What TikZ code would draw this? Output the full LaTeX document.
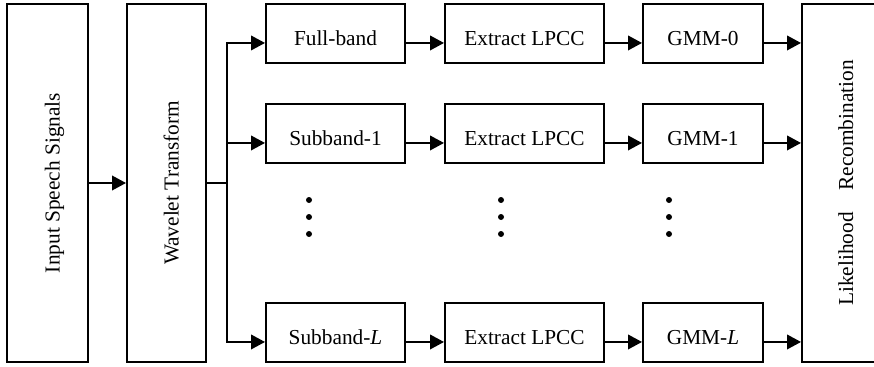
\documentclass[tikz,border=0pt]{standalone}
\usepackage{fontspec}
\setmainfont{Liberation Serif}
\usetikzlibrary{arrows.meta,calc}
\begin{document}
\begin{tikzpicture}[x=0.75pt,y=-0.75pt,
  blk/.style={draw,line width=1.5pt,inner sep=0pt,font=\fontsize{16}{18}\selectfont,
    text height=21pt,text depth=3pt,align=center},
  rowbox/.style={blk,minimum height=44.25pt},
  tall/.style={blk,minimum width=268.5pt,minimum height=#1},
  conn/.style={line width=1.25pt,-{Triangle[length=10.5pt,width=11pt]}},
  plain/.style={line width=1.25pt},
  dotmark/.style={fill=black,draw=none,circle,inner sep=0pt,minimum size=4.5pt}]
\useasboundingbox (0,0) rectangle (874,367);
\clip (0,0) rectangle (874,367);
% tall boxes
\node[tall=60.75pt,rotate=90] (inp) at (47.5,183) {Input Speech Signals};
\node[tall=59.25pt,rotate=90] (wav) at (166.5,183) {Wavelet Transform};
\node[tall=58.5pt,rotate=90] (fin) at (841,183) {Likelihood\hspace{16pt}Recombination};
% row boxes
\node[rowbox,minimum width=104.25pt] (fb) at (335.5,33.5) {Full-band};
\node[rowbox,minimum width=104.25pt] (sb1) at (335.5,133.5) {Subband-1};
\node[rowbox,minimum width=104.25pt] (sbL) at (335.5,332.5) {Subband-\textit{L}};
\node[rowbox,minimum width=119.25pt] (ex0) at (524.5,33.5) {Extract LPCC};
\node[rowbox,minimum width=119.25pt] (ex1) at (524.5,133.5) {Extract LPCC};
\node[rowbox,minimum width=119.25pt] (exL) at (524.5,332.5) {Extract LPCC};
\node[rowbox,minimum width=90pt] (g0) at (703,33.5) {GMM-0};
\node[rowbox,minimum width=90pt] (g1) at (703,133.5) {GMM-1};
\node[rowbox,minimum width=90pt] (gL) at (703,332.5) {GMM-\textit{L}};
% dots
\foreach \xx/\nm in {309/a,501/b,669/c}{
  \node[dotmark] (d1\nm) at (\xx,200) {};
  \node[dotmark] (d2\nm) at (\xx,217) {};
  \node[dotmark] (d3\nm) at (\xx,234) {};
}
% connectors
\coordinate (bus) at (227,183);
\draw[conn] (inp.south) -- (wav.north);
\draw[plain] (wav.south) -- (bus);
\draw[conn] (bus) |- ([yshift=-7.1pt]fb.west);
\draw[conn] (bus) |- ([yshift=-7.1pt]sb1.west);
\draw[conn] (bus) |- ([yshift=-7.1pt]sbL.west);
\foreach \a/\b in {fb/ex0,sb1/ex1,sbL/exL,ex0/g0,ex1/g1,exL/gL}{
  \draw[conn] ([yshift=-7.1pt]\a.east) -- ([yshift=-7.1pt]\b.west);
}
\foreach \a in {g0,g1,gL}{
  \draw[conn] ([yshift=-7.1pt]\a.east) -- ([yshift=-7.1pt]\a.east -| fin.north);
}
\end{tikzpicture}
\end{document}
